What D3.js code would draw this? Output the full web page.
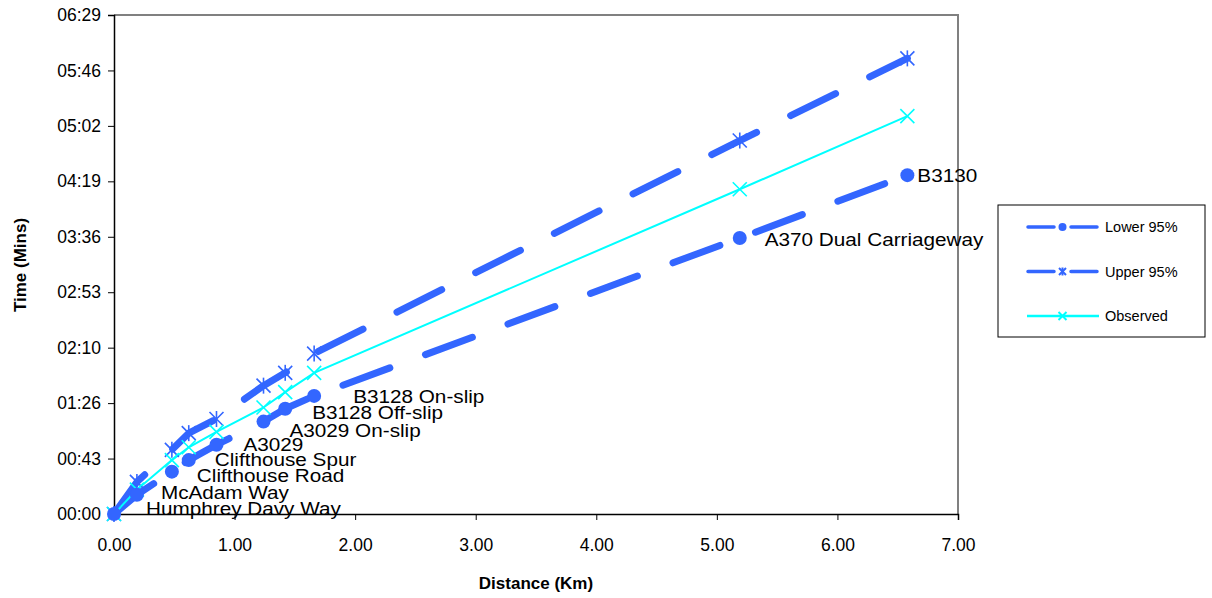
<!DOCTYPE html>
<html>
<head>
<meta charset="utf-8">
<script src="https://cdn.jsdelivr.net/npm/d3@7"></script>
<style>
  body { margin: 0; background: #fff; }
  text { font-family: Arial, "Liberation Sans", sans-serif; }
</style>
</head>
<body>
<svg></svg>
<script>
// junctions along the route (labels on the lower series)
let places = ["Humphrey Davy Way", "McAdam Way", "Clifthouse Road", "Clifthouse Spur", "A3029",
  "A3029 On-slip", "B3128 Off-slip", "B3128 On-slip", "A370 Dual Carriageway", "B3130"];
let distanceKm = [0, 0.19, 0.48, 0.62, 0.85, 1.24, 1.42, 1.66, 5.19, 6.58];
// times in seconds
let lower95 = [0, 15, 33, 42, 54, 72, 82, 92, 215, 264];
let observed = [0, 19, 42, 52, 64, 83, 95, 110, 253, 310];
let upper95 = [0, 25, 50, 63, 74, 100, 110, 125, 291, 355];
let xTicks = [0, 1, 2, 3, 4, 5, 6, 7];
let yTicks = [0, 43.2, 86.4, 129.6, 172.8, 216, 259.2, 302.4, 345.6, 388.8];
let seriesNames = ["Lower 95%", "Upper 95%", "Observed"];

// hand placed label nudges (px) from the point, like in the original sheet
let labelNudge = [[32, -6], [24, -2], [25, 4], [26, -1], [27, 0], [26, 9], [27, 4], [39, 0], [25, 1], [10, 0]];

let width = 1212,
  height = 598,
  pLeft = 114, pRight = 958, pTop = 15, pBottom = 514,
  blue = "#3366ff",
  cyan = "#00ffff";

let svg = d3.select("svg")
  .attr("width", width)
  .attr("height", height);

let xScale = d3.scaleLinear().domain([0, 7]).range([pLeft, pRight]);
let yScale = d3.scaleLinear().domain([0, 388.8]).range([pBottom, pTop]);

function mmss(s) {
  s = Math.round(s);
  return d3.format("02d")(Math.floor(s / 60)) + ":" + d3.format("02d")(s % 60);
}

// plot border (grey) on top and right
svg.append("path")
  .attr("d", `M${pLeft},${pTop}H${pRight}V${pBottom}`)
  .attr("fill", "none")
  .attr("stroke", "#808080")
  .attr("stroke-width", 2);

let xAxis = d3.axisBottom(xScale).tickValues(xTicks).tickFormat(d3.format(".2f")).tickSizeOuter(0).tickSize(6).tickPadding(6);
let yAxis = d3.axisLeft(yScale).tickValues(yTicks).tickFormat(mmss).tickSizeOuter(0).tickSize(6).tickPadding(7);

let gx = svg.append("g")
  .attr("transform", `translate(0, ${pBottom})`)
  .call(xAxis);
let gy = svg.append("g")
  .attr("transform", `translate(${pLeft}, 0)`)
  .call(yAxis);

[gx, gy].forEach(g => {
  g.selectAll(".domain").attr("stroke", "#000").attr("stroke-width", 1.5);
  g.selectAll(".tick line").attr("stroke", "#000");
  g.selectAll("text").attr("font-size", 17.5).attr("fill", "#000").attr("font-family", "Arial, 'Liberation Sans', sans-serif");
});
gx.selectAll("text").attr("dy", "1.4em");

svg.append("text")
  .attr("x", 536).attr("y", 589)
  .attr("text-anchor", "middle")
  .attr("font-size", 17).attr("font-weight", "bold")
  .text("Distance (Km)");
svg.append("text")
  .attr("transform", "translate(26, 265) rotate(-90)")
  .attr("text-anchor", "middle")
  .attr("font-size", 17).attr("font-weight", "bold")
  .text("Time (Mins)");

let line = d3.line()
  .x(d => xScale(d[0]))
  .y(d => yScale(d[1]));

let lowerPts = distanceKm.map((d, i) => [d, lower95[i]]);
let upperPts = distanceKm.map((d, i) => [d, upper95[i]]);
let obsPts = distanceKm.map((d, i) => [d, observed[i]]);

let plot = svg.append("g");

// dashed bound lines
[upperPts, lowerPts].forEach(pts => {
  plot.append("path")
    .datum(pts)
    .attr("d", line)
    .attr("fill", "none")
    .attr("stroke", blue)
    .attr("stroke-width", 7)
    .attr("stroke-linecap", "round")
    .attr("stroke-linejoin", "round")
    .attr("stroke-dasharray", "50,38");
});

plot.append("path")
  .datum(obsPts)
  .attr("d", line)
  .attr("fill", "none")
  .attr("stroke", cyan)
  .attr("stroke-width", 2);

function cross(g, s) {
  g.append("path").attr("d", `M${-s},${-s}L${s},${s}M${-s},${s}L${s},${-s}`);
}

// upper: asterisk markers
plot.append("g").selectAll("g")
  .data(upperPts)
  .enter()
  .append("g")
  .attr("transform", d => `translate(${xScale(d[0])},${yScale(d[1])})`)
  .attr("stroke", blue)
  .attr("stroke-width", 1.6)
  .each(function() {
    let g = d3.select(this);
    cross(g, 7);
    g.append("path").attr("d", "M0,-8V8");
  });

// observed: x markers
plot.append("g").selectAll("g")
  .data(obsPts)
  .enter()
  .append("g")
  .attr("transform", d => `translate(${xScale(d[0])},${yScale(d[1])})`)
  .attr("stroke", cyan)
  .attr("stroke-width", 1.6)
  .each(function() { cross(d3.select(this), 7); });

// lower: dots
plot.append("g").selectAll("circle")
  .data(lowerPts)
  .enter()
  .append("circle")
  .attr("cx", d => xScale(d[0]))
  .attr("cy", d => yScale(d[1]))
  .attr("r", 7)
  .attr("fill", blue);

// point labels
svg.append("g").selectAll("text")
  .data(lowerPts)
  .enter()
  .append("text")
  .attr("transform", (d, i) => `translate(${xScale(d[0]) + labelNudge[i][0]},${yScale(d[1]) + labelNudge[i][1]}) scale(1.12,1)`)
  .attr("dy", "0.36em")
  .attr("font-size", 18.5)
  .attr("fill", "#000")
  .text((d, i) => places[i]);

// legend
let legend = svg.append("g").attr("transform", "translate(998, 205)");
legend.append("rect")
  .attr("width", 207).attr("height", 132)
  .attr("fill", "#fff").attr("stroke", "#000").attr("stroke-width", 1);

let rows = legend.selectAll("g.row")
  .data(seriesNames)
  .enter()
  .append("g")
  .attr("class", "row")
  .attr("transform", (d, i) => `translate(0, ${22 + i * 44.5})`);

rows.each(function(d, i) {
  let g = d3.select(this);
  if (i < 2) {
    g.append("path").attr("d", "M30,0H56M73,0H99")
      .attr("stroke", blue).attr("stroke-width", 3.5).attr("stroke-linecap", "round");
  } else {
    g.append("path").attr("d", "M29,0H101")
      .attr("stroke", cyan).attr("stroke-width", 2.5);
  }
  let m = g.append("g").attr("transform", "translate(64.5,0)");
  if (i == 0) {
    m.append("circle").attr("r", 4).attr("fill", blue);
  } else if (i == 1) {
    m.attr("stroke", blue).attr("stroke-width", 2);
    cross(m, 3.5);
    m.append("path").attr("d", "M0,-4V4");
  } else {
    m.attr("stroke", cyan).attr("stroke-width", 2);
    cross(m, 4);
  }
  g.append("text")
    .attr("x", 107).attr("dy", "0.36em")
    .attr("font-size", 14.5)
    .attr("fill", "#000")
    .text(d);
});
</script>
</body>
</html>
